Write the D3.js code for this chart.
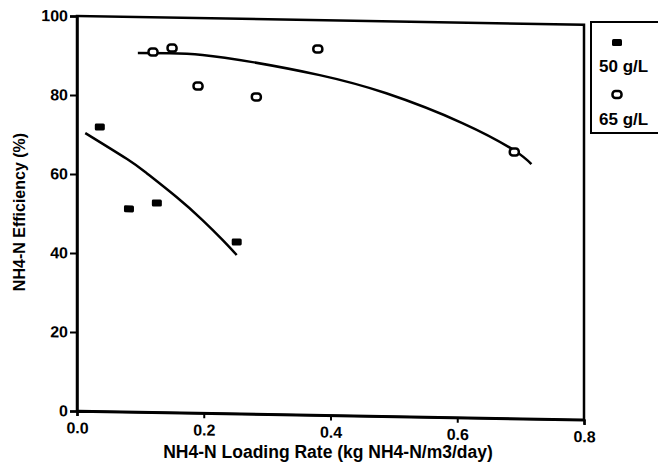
<!DOCTYPE html>
<html>
<head>
<meta charset="utf-8">
<script src="https://cdn.jsdelivr.net/npm/d3@7"></script>
<style>
  body { margin: 0; background: #fff; }
  text { font-family: "Liberation Sans", Arial, sans-serif; font-weight: bold; fill: #000; }
</style>
</head>
<body>
<div class="chart"></div>
<script>
// canvas
var width = 658, height = 469;
var margin = {left: 77, top: 16, right: 74, bottom: 58};
var w = width - margin.left - margin.right,   // 507
    h = height - margin.top - margin.bottom;  // 395

// data
var xTicks = [0, 0.2, 0.4, 0.6, 0.8];
var yTicks = [0, 20, 40, 60, 80, 100];

var x50 = [0.036, 0.082, 0.126, 0.252];
var y50 = [72.0, 51.4, 53.0, 43.5];
var x65 = [0.120, 0.150, 0.191, 0.283, 0.380, 0.690];
var y65 = [91.2, 92.3, 82.8, 80.3, 92.7, 67.5];

// fitted curves
var fit50x = [0.013, 0.079, 0.110, 0.157, 0.198, 0.230, 0.252];
var fit50y = [70.4, 64.0, 60.5, 54.6, 48.9, 43.9, 40.2];
var fit65x = [0.096, 0.146, 0.198, 0.277, 0.383, 0.488, 0.608, 0.690, 0.717];
var fit65y = [90.9, 91.0, 90.7, 89.1, 86.1, 81.8, 74.6, 67.9, 64.5];

var svg = d3.select(".chart").append("svg")
    .attr("width", width)
    .attr("height", height);

// the scan is slightly tilted, so the plot is skewed a bit
var g = svg.append("g")
    .attr("transform", "translate(" + margin.left + "," + margin.top + ") skewY(1)");

var x = d3.scaleLinear().domain([0, 0.8]).range([0, w]);
var y = d3.scaleLinear().domain([0, 100]).range([h, 0]);

// frame
g.append("rect")
    .attr("width", w).attr("height", h)
    .attr("fill", "none").attr("stroke", "#000").attr("stroke-width", 2.5);

var xAxis = g.append("g")
    .attr("transform", "translate(0," + h + ")")
    .call(d3.axisBottom(x).tickValues(xTicks).tickFormat(d3.format(".1f")).tickSize(5).tickPadding(6));
var yAxis = g.append("g")
    .call(d3.axisLeft(y).tickValues(yTicks).tickFormat(d3.format("d")).tickSize(7).tickPadding(2));

[xAxis, yAxis].forEach(function (a) {
    a.select(".domain").attr("stroke-width", 2.5);
    a.selectAll(".tick line").attr("stroke-width", 2);
    a.selectAll("text").style("font-size", "16px").style("font-weight", "bold")
        .style("font-family", "'Liberation Sans', Arial, sans-serif");
});

var line = d3.line()
    .x(function (d) { return x(d[0]); })
    .y(function (d) { return y(d[1]); })
    .curve(d3.curveNatural);

g.append("path")
    .datum(d3.zip(fit50x, fit50y))
    .attr("d", line)
    .attr("fill", "none").attr("stroke", "#000").attr("stroke-width", 2.5);
g.append("path")
    .datum(d3.zip(fit65x, fit65y))
    .attr("d", line)
    .attr("fill", "none").attr("stroke", "#000").attr("stroke-width", 2.5);

// 50 g/L : filled
g.selectAll(".p50")
    .data(d3.zip(x50, y50))
    .enter().append("rect")
    .attr("x", function (d) { return x(d[0]) - 5; })
    .attr("y", function (d) { return y(d[1]) - 3.5; })
    .attr("width", 10).attr("height", 7).attr("rx", 1.5)
    .attr("fill", "#000");

// 65 g/L : open
g.selectAll(".p65")
    .data(d3.zip(x65, y65))
    .enter().append("rect")
    .attr("x", function (d) { return x(d[0]) - 4.5; })
    .attr("y", function (d) { return y(d[1]) - 3.5; })
    .attr("width", 9).attr("height", 7).attr("rx", 3)
    .attr("fill", "#fff").attr("stroke", "#000").attr("stroke-width", 2.5);

// axis titles
svg.append("text")
    .attr("x", 328).attr("y", 458)
    .attr("text-anchor", "middle")
    .style("font-size", "17.5px")
    .text("NH4-N Loading Rate (kg NH4-N/m3/day)");

svg.append("text")
    .attr("transform", "translate(25,212) rotate(-90)")
    .attr("text-anchor", "middle")
    .style("font-size", "16px")
    .text("NH4-N Efficiency (%)");

// legend
var leg = svg.append("g");
leg.append("rect")
    .attr("x", 591).attr("y", 22).attr("width", 90).attr("height", 111)
    .attr("fill", "none").attr("stroke", "#000").attr("stroke-width", 2);
leg.append("rect")
    .attr("x", 612).attr("y", 39).attr("width", 10).attr("height", 7).attr("rx", 1.5)
    .attr("fill", "#000");
leg.append("text").attr("x", 599).attr("y", 72).style("font-size", "17px").text("50 g/L");
leg.append("rect")
    .attr("x", 612.5).attr("y", 91).attr("width", 9).attr("height", 7).attr("rx", 3)
    .attr("fill", "#fff").attr("stroke", "#000").attr("stroke-width", 2.5);
leg.append("text").attr("x", 599).attr("y", 125).style("font-size", "17px").text("65 g/L");
</script>
</body>
</html>
